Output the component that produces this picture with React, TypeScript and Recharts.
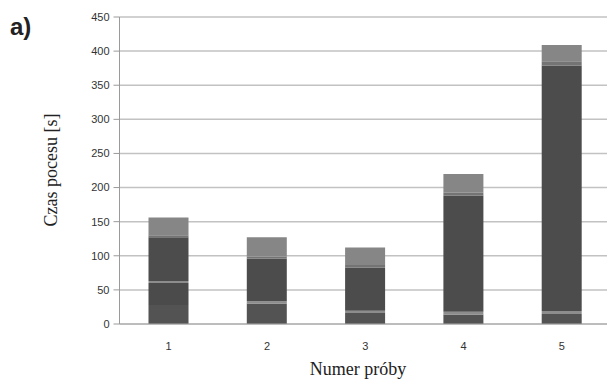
import React from 'react';
import { BarChart, Bar, XAxis, YAxis, CartesianGrid } from 'recharts';

// Numer próby
const categories = ['1', '2', '3', '4', '5'];

// stacked parts of each bar, bottom to top [s]
const baseTime = [28, 30, 16, 14, 14.5];
const lowerTime = [32, 0, 0, 0, 0];
const dividerTime = [3, 3.5, 3.5, 4, 4.5];
const mainTime = [64, 62.5, 63, 170, 360];
const transitionTime = [3, 3, 4, 4.5, 6];
const topTime = [26, 28, 25.5, 27.5, 24];

const yTicks = [0, 50, 100, 150, 200, 250, 300, 350, 400, 450];

const data = categories.map((c, i) => ({
  name: c,
  base: baseTime[i],
  lower: lowerTime[i],
  divider: dividerTime[i],
  main: mainTime[i],
  transition: transitionTime[i],
  top: topTime[i],
}));

const series = [
  { key: 'base', color: '#535353' },
  { key: 'lower', color: '#4b4b4b' },
  { key: 'divider', color: '#8d8d8d' },
  { key: 'main', color: '#4c4c4c' },
  { key: 'transition', color: '#747474' },
  { key: 'top', color: '#868686' },
];

export default function App() {
  return (
    <div
      style={{
        position: 'fixed',
        left: 0,
        top: 0,
        width: 607,
        height: 383,
        overflow: 'hidden',
        background: '#fff',
      }}
    >
      <div
        style={{
          position: 'absolute',
          left: 10,
          top: 15,
          fontFamily: '"Liberation Sans", Arial, sans-serif',
          fontWeight: 'bold',
          fontSize: 24,
          color: '#222',
          lineHeight: 1,
        }}
      >
        a)
      </div>
      <div
        style={{
          position: 'absolute',
          left: 51,
          top: 170,
          transform: 'translate(-50%, -50%) rotate(-90deg)',
          fontFamily: '"Liberation Serif", "Times New Roman", serif',
          fontSize: 18,
          color: '#222',
          whiteSpace: 'nowrap',
        }}
      >
        Czas pocesu [s]
      </div>
      <div
        style={{
          position: 'absolute',
          left: 358,
          top: 369,
          transform: 'translate(-50%, -50%)',
          fontFamily: '"Liberation Serif", "Times New Roman", serif',
          fontSize: 18,
          color: '#222',
          whiteSpace: 'nowrap',
        }}
      >
        Numer próby
      </div>
      <BarChart
        width={611}
        height={383}
        data={data}
        margin={{ top: 17, right: 0, left: 0, bottom: 29 }}
        barSize={40}
      >
        <CartesianGrid vertical={false} stroke="#c2c2c2" strokeWidth={1.5} />
        <XAxis
          dataKey="name"
          height={30}
          tickLine={false}
          tickMargin={12}
          stroke="#a8a8a8"
          tick={{ fill: '#333', fontSize: 11, fontFamily: '"Liberation Sans", Arial, sans-serif' }}
        />
        <YAxis
          width={119.5}
          domain={[0, 450]}
          ticks={yTicks}
          interval={0}
          tickSize={6}
          tickMargin={4}
          stroke="#9a9a9a"
          tick={{
            fill: '#333',
            fontSize: 11,
            fontFamily: '"Liberation Sans Narrow", "Liberation Sans", Arial, sans-serif',
          }}
        />
        {series.map((s) => (
          <Bar
            key={s.key}
            dataKey={s.key}
            stackId="a"
            fill={s.color}
            isAnimationActive={false}
          />
        ))}
      </BarChart>
    </div>
  );
}
